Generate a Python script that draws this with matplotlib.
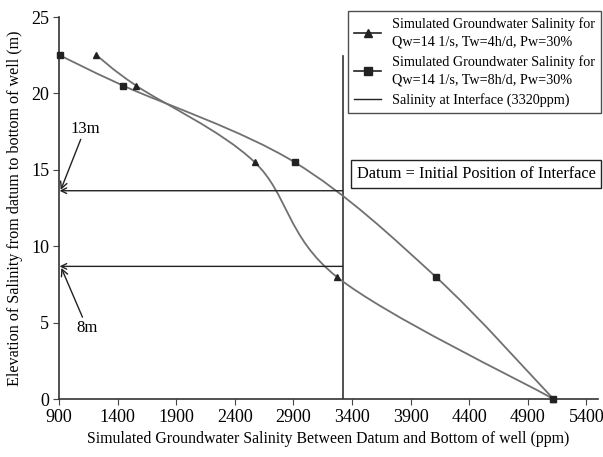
import matplotlib
matplotlib.use("Agg")
import matplotlib.pyplot as plt
import numpy as np
from matplotlib.path import Path
from matplotlib.patches import PathPatch
from matplotlib.lines import Line2D

plt.rcParams['font.family'] = ['Liberation Serif', 'DejaVu Serif']

# data
sal_4h = [1220, 1560, 2570, 3270, 5120]
elev_4h = [22.5, 20.5, 15.5, 8.0, 0.0]
sal_8h = [905, 1450, 2910, 4115, 5120]
elev_8h = [22.5, 20.5, 15.5, 8.0, 0.0]
interface_sal = 3320
interface_top = 22.45
level_13 = 13.63
level_8 = 8.68
xticks = [900, 1400, 1900, 2400, 2900, 3400, 3900, 4400, 4900, 5400]
yticks = [0, 5, 10, 15, 20, 25]

curve_col = '#707070'
mark_col = '#222222'

fig = plt.figure(figsize=(6.03, 4.57), dpi=100)
ax = fig.add_axes([0.0978, 0.1269, 0.8939, 0.8359])
ax.set_xlim(900, 5500)
ax.set_ylim(0, 25)

# pixel scale, used so the smoothing looks like Excel's
sx = 0.11704
sy = 15.28


def smooth_path(xs, ys):
    p = np.column_stack([np.array(xs) * sx, np.array(ys) * sy])
    n = len(p)
    verts = [p[0]]
    codes = [Path.MOVETO]
    for i in range(n - 1):
        p0 = p[i - 1] if i > 0 else p[i]
        p1 = p[i]
        p2 = p[i + 1]
        p3 = p[i + 2] if i + 2 < n else p[i + 1]
        c1 = p1 + (p2 - p0) / 6
        c2 = p2 - (p3 - p1) / 6
        verts += [c1, c2, p2]
        codes += [Path.CURVE4] * 3
    verts = np.array(verts)
    verts[:, 0] /= sx
    verts[:, 1] /= sy
    return Path(verts, codes)


for xs, ys, m, ms in [(sal_4h, elev_4h, '^', 4), (sal_8h, elev_8h, 's', 4.5)]:
    ax.add_patch(PathPatch(smooth_path(xs, ys), facecolor='none',
                           edgecolor=curve_col, lw=1.3, zorder=3))
    ax.plot(xs, ys, ls='none', marker=m, ms=ms, color=mark_col, zorder=4,
            clip_on=False)

ax.plot([interface_sal, interface_sal], [0, interface_top], color='#333333', lw=1.2)

arrow = dict(arrowstyle='->', color='#222222', lw=1.0, shrinkA=0, shrinkB=0)
for lvl in [level_13, level_8]:
    ax.annotate('', xy=(905, lvl), xytext=(interface_sal, lvl), arrowprops=arrow)

ax.annotate('13m', xy=(915, level_13 + 0.05), xytext=(1122, 17.7), fontsize=12,
            ha='center', va='center', arrowprops=arrow)
ax.annotate('8m', xy=(920, level_8 - 0.1), xytext=(1140, 4.65), fontsize=12,
            ha='center', va='center', arrowprops=arrow)

for s in ['top', 'right']:
    ax.spines[s].set_visible(False)
for s in ['left', 'bottom']:
    ax.spines[s].set_color('#333333')
    ax.spines[s].set_linewidth(1.2)

ax.set_xticks(xticks)
ax.set_yticks(yticks)
ax.tick_params(labelsize=13, length=4, direction='out', color='#444444', pad=3)
ax.set_xlabel('Simulated Groundwater Salinity Between Datum and Bottom of well (ppm)',
              fontsize=11.4, labelpad=4)
ax.set_ylabel('Elevation of Salinity from datum to bottom of well (m)',
              fontsize=11.6, labelpad=6)

handles = [
    Line2D([], [], color=mark_col, marker='^', ms=6, lw=1.2),
    Line2D([], [], color=mark_col, marker='s', ms=6, lw=1.2),
    Line2D([], [], color=mark_col, lw=1.0),
]
labels = ['Simulated Groundwater Salinity for\nQw=14 1/s, Tw=4h/d, Pw=30%',
          'Simulated Groundwater Salinity for\nQw=14 1/s, Tw=8h/d, Pw=30%',
          'Salinity at Interface (3320ppm)']
leg = fig.legend(handles, labels, loc='upper left', bbox_to_anchor=(348 / 603, 1 - 11 / 457),
                 fontsize=10.2, frameon=True, fancybox=False, edgecolor='#222222',
                 handlelength=1.9, handletextpad=0.75, borderpad=0.45, labelspacing=0.45,
                 borderaxespad=0)
leg.get_frame().set_linewidth(1.0)
for t in leg.get_texts():
    t.set_linespacing(1.45)

fig.text(476 / 603, 1 - 174 / 457, 'Datum = Initial Position of Interface', fontsize=11.8,
         ha='center', va='center',
         bbox=dict(boxstyle='square,pad=0.35', facecolor='white', edgecolor='#222222', lw=1.0))

fig.savefig('out.png', dpi=100)
